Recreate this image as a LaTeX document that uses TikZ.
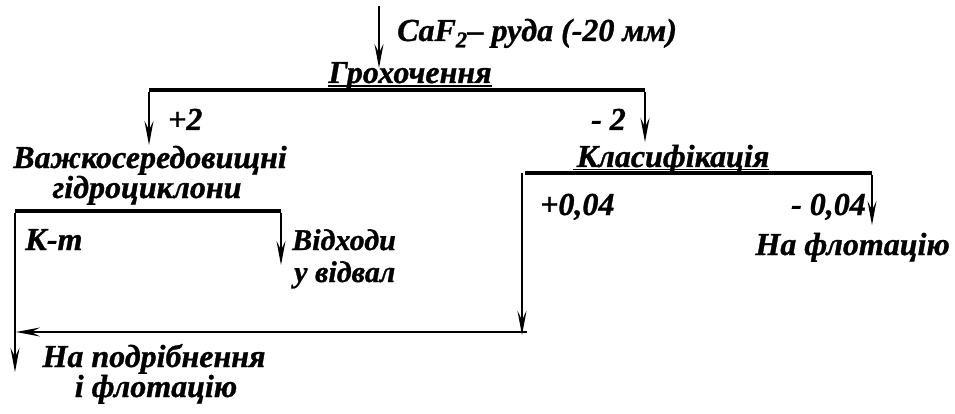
\documentclass[tikz,border=0pt]{standalone}
\usepackage{fontspec}
\setmainfont{Liberation Serif}[BoldItalicFont={Liberation Serif Bold Italic}]
\newfontfamily\lblfont{Liberation Serif Bold Italic}[FakeBold=1]
\usetikzlibrary{arrows.meta}
\begin{document}
\begin{tikzpicture}[x=1pt,y=-1pt,
  lbl/.style={inner sep=0pt, anchor=base west, font=\fontsize{32}{34}\lblfont},
  bar/.style={line width=3.6pt},
  uline/.style={line width=1.8pt},
  arr/.style={line width=1.6pt,-{Stealth[length=24pt,width=9pt,inset=9pt]}}]
\useasboundingbox (0,0) rectangle (955,414);
% texts
\node[lbl] (feed) at (397,41) {CaF\textsubscript{2}– руда (-20 мм)};
\node[lbl,anchor=base] (groh) at (410,83) {Грохочення};
\node[lbl] (p2) at (168,130) {+2};
\node[lbl,anchor=base east] (m2) at (626,130) {- 2};
\node[lbl,anchor=base] (vazh) at (150,168) {Важкосередовищні};
\node[lbl,anchor=base] (gidro) at (147,198) {гідроциклони};
\node[lbl] (kt) at (25,250) {К-т};
\node[lbl,font=\fontsize{30}{32}\lblfont] (vidh) at (292,250) {Відходи};
\node[lbl,font=\fontsize{30}{32}\lblfont] (uvid) at (294,282) {у відвал};
\node[lbl,anchor=base] (klas) at (673,167) {Класифікація};
\node[lbl] (p004) at (540,215) {+0,04};
\node[lbl,anchor=base east] (m004) at (866,215) {- 0,04};
\node[lbl,anchor=base east] (naflot) at (950,255) {На флотацію};
\node[lbl,anchor=base] (napodr) at (154,367) {На подрібнення};
\node[lbl,anchor=base] (iflot) at (156,397) {і флотацію};
% underlines
\draw[uline] ([yshift=-3pt]groh.base west) -- ([yshift=-3pt]groh.base east);
\draw[uline] ([xshift=-4pt,yshift=-2.5pt]klas.base west) -- ([yshift=-2.5pt]klas.base east);
% coordinates
\coordinate (f0) at (379,6);
\coordinate (f1) at (379,68);
\coordinate (gL) at (149,90);
\coordinate (gR) at (645,90);
\coordinate (gLd) at (149,145);
\coordinate (gRd) at (645,142);
\coordinate (hL) at (15,211);
\coordinate (hR) at (281,211);
\coordinate (hRd) at (281,265);
\coordinate (hLd) at (15,372);
\coordinate (cL) at (525,173);
\coordinate (cR) at (872,173);
\coordinate (cRd) at (872,225);
\coordinate (v0) at (522,173);
\coordinate (v1) at (522,335);
\coordinate (r0) at (527,332);
\coordinate (r1) at (16,332);
% bars
\draw[bar] (gL) -- (gR);
\draw[bar] (hL) -- (hR);
\draw[bar] (cL) -- (cR);
% arrows
\draw[arr] (f0) -- (f1);
\draw[arr] ([yshift=-1.8pt]gL) -- (gLd);
\draw[arr] ([yshift=-1.8pt]gR) -- (gRd);
\draw[arr] ([yshift=-1.8pt]hR) -- (hRd);
\draw[arr] ([yshift=-1.8pt]hL) -- (hLd);
\draw[arr] ([yshift=-1.8pt]cR) -- (cRd);
\draw[arr] (v0) -- (v1);
\draw[arr] (r0) -- (r1);
\end{tikzpicture}
\end{document}
